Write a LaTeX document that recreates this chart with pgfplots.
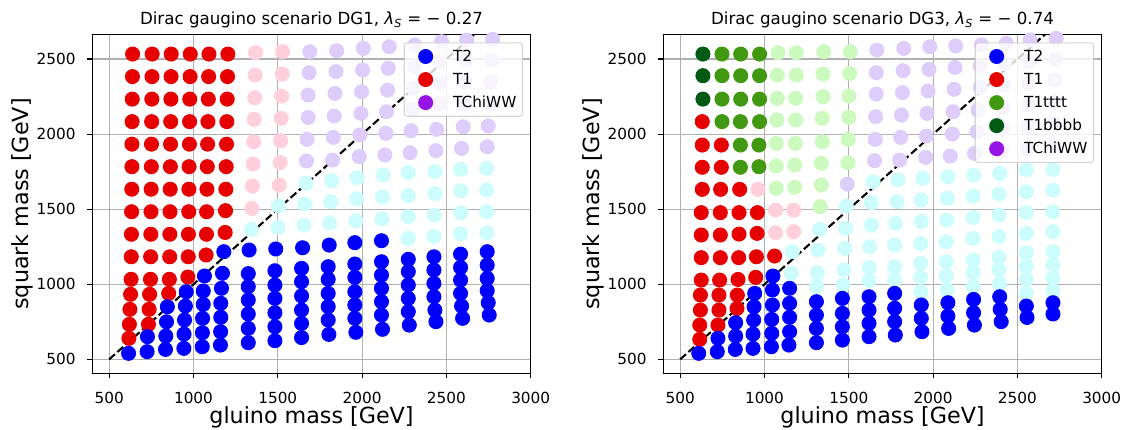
\documentclass[border=0pt]{standalone}
\usepackage{fontspec}
\setmainfont{DejaVu Sans}
\usepackage{pgfplots}
\pgfplotsset{compat=1.18}
\definecolor{cT2}{RGB}{0,0,255}
\definecolor{cT1}{RGB}{230,0,0}
\definecolor{cTt}{RGB}{64,153,16}
\definecolor{cTb}{RGB}{0,90,20}
\definecolor{cChi}{RGB}{150,20,230}
\definecolor{pPink}{RGB}{255,208,220}
\definecolor{pCyan}{RGB}{204,252,252}
\definecolor{pLav}{RGB}{222,204,250}
\definecolor{pGreen}{RGB}{204,250,190}
\definecolor{gridc}{RGB}{176,176,176}
\definecolor{legc}{RGB}{204,204,204}
\pgfplotsset{
  dgaxis/.style={
    scale only axis, width=315.65pt, height=243.79pt,
    xmin=400, xmax=3000, ymin=407, ymax=2662,
    xtick={500,1000,1500,2000,2500,3000},
    ytick={500,1000,1500,2000,2500},
    minor tick num=0,
    tick pos=left, tick align=outside,
    major tick length=3.5pt,
    every tick/.style={black, line width=0.8pt},
    axis line style={line width=0.8pt, black},
    grid=major,
    major grid style={color=gridc, line width=0.8pt},
    /pgf/number format/assume math mode=true,
    /pgf/number format/1000 sep={},
    ticklabel style={font=\fontsize{11}{13}\selectfont, inner sep=0pt},
    xticklabel style={anchor=north, yshift=-9.6pt},
    yticklabel style={anchor=east, xshift=-8.4pt},
    every axis title/.style={at={(rel axis cs:0.5,1)}, anchor=south, yshift=4.6pt, inner sep=0pt, font=\fontsize{12}{14}\selectfont},
    every axis x label/.style={at={(rel axis cs:0.5,0)}, anchor=north, yshift=-24pt, inner sep=0pt, font=\fontsize{16}{19}\selectfont},
    every axis y label/.style={at={(rel axis cs:0,0.5)}, xshift=-42.5pt, rotate=90, anchor=south, inner sep=0pt, font=\fontsize{16}{19}\selectfont},
    xlabel={gluino mass [GeV]}, ylabel={squark mass [GeV]},
    legend cell align=left,
    legend style={at={(rel axis cs:1,1)}, anchor=north east, xshift=-5.5pt, yshift=-5.5pt,
      draw=legc, draw opacity=0.8, line width=0.8pt, rounded corners=2pt, fill=white, fill opacity=0.8, text opacity=1,
      inner xsep=4.4pt, inner ysep=4.4pt, font=\fontsize{11}{13}\selectfont, row sep=5.8pt,
      nodes={inner sep=0pt}, /tikz/every odd column/.style={column sep=8.8pt}},
  },
  dots/.style={only marks, mark=*, mark size=5.1pt, mark options={draw=#1, fill=#1, line width=0.6pt}, forget plot},
  limg/.style={legend image code/.code={\path[draw=none, fill=none] (0pt,-5.4pt) rectangle (22pt,5.4pt); \path[draw=none, fill=#1, fill opacity=1] (11pt,0pt) circle (5.4pt);}},
}
\begin{document}
\begin{tikzpicture}
\useasboundingbox (-66.46pt,-40.82pt) rectangle (744.26pt,268.78pt);
% ---------------- DG1 ----------------
\begin{axis}[dgaxis, at={(0pt,0pt)}, anchor=south west,
  title={Dirac gaugino scenario DG1, {\itshape λ\textsubscript{S}} = − 0.27}]
\addlegendimage{limg=cT2}\addlegendentry{T2}
\addlegendimage{limg=cT1}\addlegendentry{T1}
\addlegendimage{limg=cChi}\addlegendentry{TChiWW}
% pale purple
\addplot[dots=pLav] coordinates {
(1690,2549) (1686,2409) (1680,2260) (1680,2111) (1674,1965) (1670,1821)
(1849,2555) (1845,2416) (1839,2271) (1835,2120) (1829,1978) (1825,1827)
(2007,2571) (2003,2427) (1997,2282) (1993,2138) (1987,1994) (1983,1850)
(2161,2582) (2155,2438) (2151,2293) (2145,2149) (2141,2005) (2135,1861)
(2313,2593) (2310,2450) (2305,2305) (2300,2165) (2290,2023) (2284,1876)
(2471,2615) (2462,2480) (2462,2338) (2458,2200) (2442,2032) (2438,1890)
(2620,2626) (2620,2493) (2610,2349) (2606,2200) (2600,2049) (2590,1905)
(2774,2631) (2768,2493) (2762,2349) (2758,2200) (2748,2054) (2742,1916)
};
% pale pink
\addplot[dots=pPink] coordinates {
(1368,2542) (1366,2393) (1363,2242) (1360,2098) (1357,1949) (1354,1801) (1350,1654) (1346,1505)
(1528,2549) (1526,2400) (1523,2253) (1520,2105) (1517,1956) (1514,1810) (1509,1661)
};
% pale cyan
\addplot[dots=pCyan] coordinates {
(1344,1365)
(1505,1521) (1502,1379)
(1667,1672) (1660,1534) (1655,1394)
(1820,1690) (1813,1550) (1808,1408)
(1972,1710) (1968,1568) (1963,1423)
(2125,1727) (2121,1581) (2117,1435)
(2274,1743) (2274,1591) (2274,1450) (2274,1306)
(2432,1750) (2432,1603) (2428,1461) (2426,1319)
(2586,1765) (2586,1623) (2586,1476) (2584,1337)
(2738,1772) (2738,1628) (2738,1483) (2740,1343)
};
% T1 red
\addplot[dots=cT1] coordinates {
(639,2533) (638,2383) (637,2233) (636,2083) (635,1933) (635,1783) (634,1633) (633,1483) (632,1333) (631,1183) (630,1033) (627,933) (623,833) (620,733) (617,640)
(755,2533) (754,2383) (753,2233) (752,2083) (751,1933) (750,1783) (749,1633) (748,1483) (747,1333) (746,1183) (745,1033) (740,933) (737,833) (733,733)
(868,2533) (867,2383) (866,2233) (865,2083) (864,1933) (863,1783) (862,1633) (861,1483) (860,1333) (859,1183) (857,1033) (853,939)
(981,2533) (980,2383) (978,2233) (977,2083) (976,1933) (974,1783) (973,1633) (972,1483) (970,1333) (969,1183) (967,1048)
(1092,2533) (1090,2383) (1088,2233) (1086,2083) (1084,1933) (1082,1783) (1080,1633) (1078,1483) (1077,1333) (1075,1195)
(1204,2533) (1202,2383) (1200,2233) (1198,2083) (1196,1933) (1194,1783) (1192,1633) (1190,1490) (1188,1345)
};
% T2 blue
\addplot[dots=cT2] coordinates {
(615,540)
(727,651) (725,551)
(845,850) (840,750) (836,655) (834,566)
(957,950) (952,855) (947,762) (944,668) (943,573)
(1065,1055) (1058,955) (1058,866) (1054,773) (1053,677) (1052,584)
(1180,1217) (1172,1073) (1166,973) (1162,873) (1162,780) (1161,684) (1160,595)
(1330,1228) (1325,1071) (1325,984) (1325,895) (1325,802) (1325,706) (1325,611)
(1488,1235) (1483,1090) (1483,995) (1483,906) (1483,810) (1483,717) (1483,624)
(1647,1243) (1641,1106) (1641,1017) (1641,922) (1641,828) (1641,739) (1641,645)
(1805,1261) (1799,1117) (1799,1033) (1799,939) (1799,851) (1799,762) (1803,666)
(1957,1277) (1957,1135) (1957,1046) (1957,950) (1957,862) (1957,773) (1963,680)
(2115,1290) (2115,1150) (2115,1061) (2115,973) (2115,884) (2115,795) (2121,700)
(2274,1166) (2274,1084) (2274,995) (2274,906) (2274,817) (2280,728)
(2426,1183) (2426,1095) (2426,1006) (2426,917) (2432,828) (2438,751)
(2584,1201) (2584,1112) (2584,1028) (2584,939) (2590,855) (2596,773)
(2742,1217) (2742,1128) (2742,1039) (2742,957) (2748,877) (2754,795)
};
\addplot[black, line width=1.5pt, dash pattern=on 5.55pt off 2.4pt, forget plot] coordinates {(500,500) (3000,3000)};
\end{axis}
% ---------------- DG3 ----------------
\begin{axis}[dgaxis, at={(411.12pt,0pt)}, anchor=south west,
  title={Dirac gaugino scenario DG3, {\itshape λ\textsubscript{S}} = − 0.74}]
\addlegendimage{limg=cT2}\addlegendentry{T2}
\addlegendimage{limg=cT1}\addlegendentry{T1}
\addlegendimage{limg=cTt}\addlegendentry{T1tttt}
\addlegendimage{limg=cTb}\addlegendentry{T1bbbb}
\addlegendimage{limg=cChi}\addlegendentry{TChiWW}
% pale purple
\addplot[dots=pLav] coordinates {
(1491,1667)
(1667,2560) (1663,2409) (1663,2267) (1659,2116) (1657,1965) (1653,1823)
(1826,2571) (1822,2422) (1818,2276) (1812,2127) (1808,1978) (1802,1827)
(1980,2582) (1976,2431) (1970,2287) (1964,2138) (1960,1987) (1956,1845)
(2134,2587) (2130,2444) (2124,2298) (2118,2149) (2114,2000) (2102,1854)
(2286,2593) (2280,2453) (2280,2311) (2266,2160) (2260,2016) (2246,1872)
(2434,2604) (2424,2471) (2418,2327) (2414,2178) (2410,2032) (2405,1883)
(2575,2627) (2572,2482) (2568,2338) (2565,2194) (2562,2049) (2560,1905)
(2730,2638) (2726,2498) (2722,2360) (2718,2216) (2715,2071) (2713,1927)
};
% pale green
\addplot[dots=pGreen] coordinates {
(1080,2542) (1076,2393) (1076,2238) (1074,2094) (1070,1938) (1070,1787) (1070,1639)
(1189,2542) (1189,2393) (1185,2238) (1185,2094) (1183,1938) (1179,1794) (1179,1645)
(1351,2549) (1347,2400) (1347,2249) (1343,2105) (1343,1949) (1337,1805) (1337,1661) (1331,1517)
(1509,2549) (1505,2404) (1501,2253) (1501,2111) (1497,1965) (1495,1809)
};
% pale pink
\addplot[dots=pPink] coordinates {
(962,1632) (1066,1494) (1066,1343) (1173,1494) (1173,1350)
};
% pale cyan
\addplot[dots=pCyan] coordinates {
(1165,1217) (1159,1073)
(1327,1366) (1317,1228) (1313,1077) (1308,984)
(1485,1521) (1481,1372) (1476,1239) (1472,1095) (1466,995)
(1644,1683) (1634,1543) (1634,1394) (1624,1250) (1620,1112) (1620,1024)
(1792,1694) (1786,1550) (1778,1406) (1772,1261) (1772,1117) (1772,1028)
(1940,1705) (1930,1561) (1930,1417) (1926,1272) (1926,1139) (1926,1046) (1926,950)
(2088,1716) (2084,1572) (2082,1428) (2078,1283) (2078,1150) (2078,1055) (2082,966)
(2240,1727) (2237,1587) (2237,1445) (2237,1306) (2237,1161) (2237,1077) (2237,984)
(2395,1738) (2391,1601) (2391,1461) (2391,1317) (2391,1179) (2391,1095) (2395,1002)
(2553,1761) (2553,1616) (2553,1477) (2553,1339) (2553,1210) (2553,1121) (2553,1033) (2553,939)
(2711,1765) (2711,1627) (2711,1483) (2711,1350) (2711,1217) (2711,1128) (2711,1039) (2711,957)
};
% T1bbbb
\addplot[dots=cTb] coordinates {(635,2533) (635,2389) (635,2233)};
% T1tttt
\addplot[dots=cTt] coordinates {
(748,2533) (748,2389) (748,2233) (748,2083)
(859,2533) (859,2389) (859,2233) (857,2083) (857,1927) (857,1779)
(971,2533) (971,2389) (971,2233) (971,2083) (967,1927) (967,1783)
};
% T1 red
\addplot[dots=cT1] coordinates {
(631,2083) (631,1927) (631,1779) (631,1632) (625,1477) (625,1328) (625,1177) (625,1028) (620,928) (620,828) (616,728) (616,633)
(744,1927) (744,1779) (740,1632) (738,1477) (738,1328) (738,1177) (734,1028) (730,928) (730,828) (724,728)
(853,1632) (849,1477) (849,1334) (847,1177) (843,1032) (839,928) (837,839)
(958,1477) (956,1339) (952,1183) (948,1046)
(1060,1188)
};
% T2 blue
\addplot[dots=cT2] coordinates {
(610,540)
(724,640) (720,551)
(829,744) (829,655) (827,566)
(942,939) (938,850) (936,762) (932,668) (932,573)
(1050,1055) (1047,962) (1047,862) (1043,766) (1043,673) (1041,584)
(1149,973) (1149,873) (1149,780) (1149,684) (1145,595)
(1308,884) (1308,795) (1308,706) (1308,611)
(1462,906) (1462,806) (1462,717) (1462,628)
(1620,917) (1620,828) (1620,740) (1620,651)
(1772,939) (1772,840) (1772,751) (1776,662)
(1930,862) (1930,773) (1934,684)
(2088,877) (2088,788) (2092,706)
(2240,899) (2240,810) (2245,728)
(2395,917) (2398,833) (2404,751)
(2553,855) (2557,779)
(2711,877) (2711,802)
};
\addplot[black, line width=1.5pt, dash pattern=on 5.55pt off 2.4pt, forget plot] coordinates {(500,500) (3000,3000)};
\end{axis}
\end{tikzpicture}
\end{document}
